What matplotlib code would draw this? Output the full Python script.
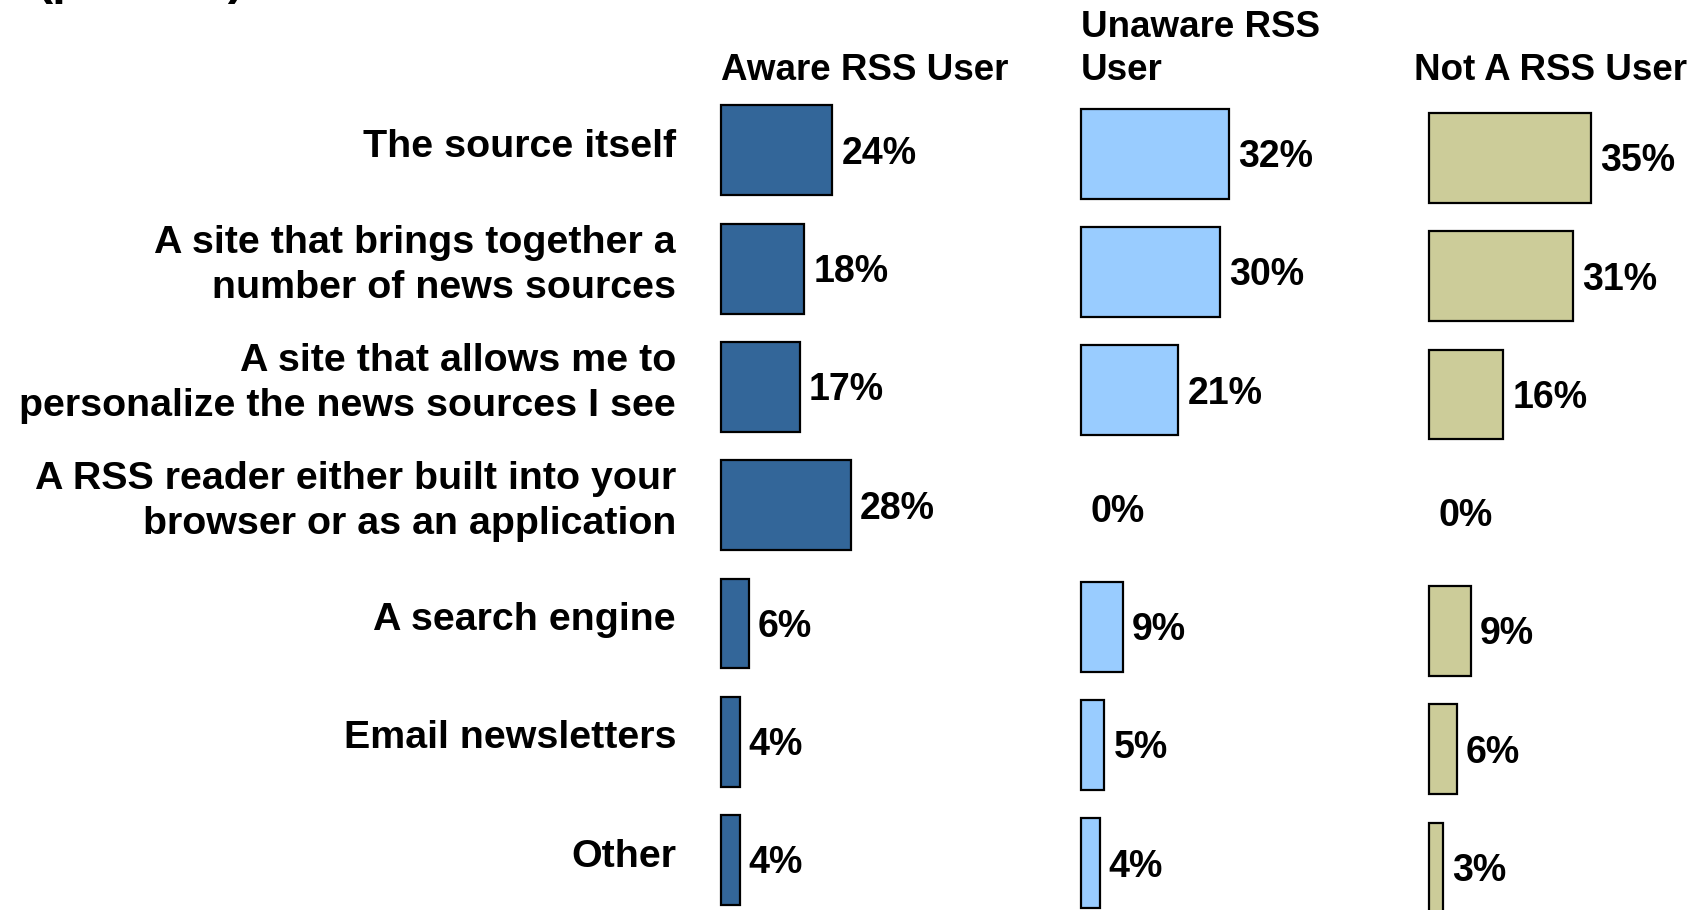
import matplotlib.pyplot as plt

# data
categories = ["The source itself",
              "A site that brings together a\nnumber of news sources",
              "A site that allows me to\npersonalize the news sources I see",
              "A RSS reader either built into your\nbrowser or as an application",
              "A search engine",
              "Email newsletters",
              "Other"]
groups = ["Aware RSS User", "Unaware RSS\nUser", "Not A RSS User"]
aware = [24, 18, 17, 28, 6, 4, 4]
unaware = [32, 30, 21, 0, 9, 5, 4]
not_user = [35, 31, 16, 0, 9, 6, 3]
colors = ["#336699", "#99CCFF", "#CCCC99"]

plt.rcParams['font.family'] = ['Liberation Sans', 'DejaVu Sans']

W, H = 1701, 910
fig = plt.figure(figsize=(W / 100, H / 100), dpi=100)

px_per_pct = 4.63
row_px = 118.3
# panel left edge (px), first row centre (px), header x offset (px), header centre (px)
panels = [(721, 150.3, 0, 71), (1081, 153.6, 0, 49), (1429, 157.9, -15, 71)]
series = [aware, unaware, not_user]

axes = []
for k, (left, c0, hx, hy) in enumerate(panels):
    ax = fig.add_axes([left / W, 0, 300 / W, 1])
    ax.set_xlim(0, 300 / px_per_pct)
    ax.set_ylim((H - c0) / row_px, -c0 / row_px)
    ax.axis("off")
    vals = series[k]
    lw = [1.6 if v > 0 else 0 for v in vals]
    ax.barh(range(len(vals)), vals, height=0.76, color=colors[k],
            edgecolor="black", linewidth=lw, clip_on=False)
    for i, v in enumerate(vals):
        ax.text(v + 2.0, i + 0.028, f"{v}%", ha="left", va="center",
                fontsize=27, fontweight="bold", clip_on=False)
    ax.text(hx / px_per_pct, (hy - c0) / row_px, groups[k], ha="left",
            va="center", fontsize=26.5, fontweight="bold", linespacing=1.32,
            clip_on=False)
    axes.append(ax)

# category labels
ax1 = axes[0]
for i, lab in enumerate(categories):
    ax1.text(-(721 - 676) / px_per_pct, i - 0.03, lab, ha="right", va="center",
             fontsize=28.4, fontweight="bold", linespacing=1.32, clip_on=False)

# title cut off at the top edge
fig.text(37 / W, 1 + 6 / H, "(percent)", ha="left", va="baseline",
         fontsize=35, fontweight="bold")

fig.savefig("out.png", dpi=100)
